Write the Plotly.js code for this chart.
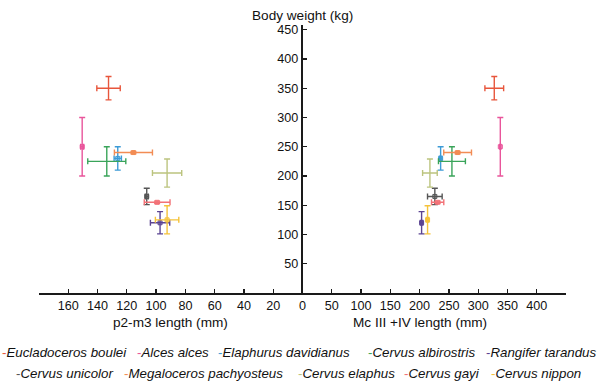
<!DOCTYPE html>
<html>
<head>
<meta charset="utf-8">
<script src="https://cdn.plot.ly/plotly-3.0.1.min.js"></script>
<style>html,body{margin:0;padding:0;background:#fff;}#chart{width:600px;height:383px;}</style>
</head>
<body>
<div id="chart"></div>
<script>
// ---- data ----
var species = ["Eucladoceros boulei","Alces alces","Elaphurus davidianus","Cervus albirostris","Rangifer tarandus",
               "Cervus unicolor","Megaloceros pachyosteus","Cervus elaphus","Cervus gayi","Cervus nippon"];
var bodyWeight    = [350, 250, 230, 225, 120, 165, 240, 205, 155, 125];
var bodyWeightErr = [20, 50, 20, 25, 19, 14, 2, 24, 2, 24];
var p2m3          = [132.5, 150.5, 126.2, 133.7, 97.3, 106.4, 115.5, 92.5, 99.3, 92.5];
var p2m3Err       = [8, 1, 2.5, 13, 6.6, 1, 13, 10, 8.8, 8];
var mc34          = [327.5, 337.8, 235.9, 255.2, 203.4, 226, 264.9, 217.6, 230.8, 213.6];
var mc34Err       = [16, 1, 2, 23, 2, 12.5, 23.7, 12.5, 10.5, 2];
var leftTicks  = [160, 140, 120, 100, 80, 60, 40, 20, 0];
var rightTicks = [50, 100, 150, 200, 250, 300, 350, 400];
var yTicks     = [50, 100, 150, 200, 250, 300, 350, 400, 450];

// ---- styles ----
var colors = ["#e8563c","#e9559b","#3d9bd6","#3aa45a","#5b4492","#555555","#f28c54","#bcc47f","#f27277","#f5c33b"];
var showMarker = [false, true, true, false, true, true, true, false, true, true];

var traces = [];
species.forEach(function(name, i){
  var common = {
    mode: 'markers', type: 'scatter', name: name, showlegend: false,
    marker: {symbol: 'square', size: showMarker[i] ? 4 : 0.1,
             color: colors[i] + '66', line: {color: colors[i], width: showMarker[i] ? 1 : 0}},
    error_y: {type: 'data', array: [bodyWeightErr[i]], color: colors[i], thickness: 1.4, width: 3}
  };
  traces.push(Object.assign({}, common, {
    x: [p2m3[i]], y: [bodyWeight[i]], xaxis: 'x', yaxis: 'y',
    error_x: {type: 'data', array: [p2m3Err[i]], color: colors[i], thickness: 1.4, width: 3}
  }));
  traces.push(Object.assign({}, common, {
    x: [mc34[i]], y: [bodyWeight[i]], xaxis: 'x2', yaxis: 'y',
    error_x: {type: 'data', array: [mc34Err[i]], color: colors[i], thickness: 1.4, width: 3}
  }));
});

var L = 39, R = 34, W = 600;
function px2paper(px){ return (px - L) / (W - L - R); }

var FAM = '"Liberation Sans", Arial, sans-serif';
var tickFont = {family: FAM, size: 12.6, color: '#111'};
var titleFont = {family: FAM, size: 13.6, color: '#111'};
var axisCommon = {
  showgrid: false, zeroline: false, showline: true, linecolor: '#1a1a1a', linewidth: 1.6,
  ticks: 'inside', ticklen: 4, tickwidth: 1.3, tickcolor: '#1a1a1a', tickfont: tickFont, fixedrange: true
};

var annotations = [
  {text: 'Body weight (kg)', xref: 'paper', yref: 'paper', x: 0.5, y: 1, yshift: 10,
   xanchor: 'center', yanchor: 'middle', showarrow: false, font: titleFont},
  {text: 'p2-m3 length (mm)', xref: 'paper', yref: 'paper', x: 0.25, y: 0, yshift: -29,
   xanchor: 'center', yanchor: 'middle', showarrow: false, font: titleFont},
  {text: 'Mc III +IV length (mm)', xref: 'x2', yref: 'paper', x: 200, y: 0, yshift: -29,
   xanchor: 'center', yanchor: 'middle', showarrow: false, font: titleFont}
];

// legend (two rows) built as text annotations
var legendX = [0, 135, 216, 366, 484, 14, 122, 296, 402, 489];
var legendRow = [0,0,0,0,0,1,1,1,1,1];
species.forEach(function(name, i){
  annotations.push({
    text: '<span style="color:' + colors[i] + '">-</span><i>' + name + '</i>',
    xref: 'paper', yref: 'paper', x: px2paper(legendX[i]), y: 0,
    yshift: legendRow[i] === 0 ? -59 : -80,
    xanchor: 'left', yanchor: 'middle', showarrow: false,
    font: {family: FAM, size: 13.3, color: '#111'}
  });
});

var layout = {
  width: 600, height: 383,
  margin: {l: L, r: R, t: 25, b: 90, pad: 0},
  paper_bgcolor: '#fff', plot_bgcolor: '#fff',
  showlegend: false,
  xaxis: Object.assign({}, axisCommon, {domain: [0, 0.5], range: [180, 0], tickvals: leftTicks,
          ticktext: leftTicks.map(String), anchor: 'y'}),
  xaxis2: Object.assign({}, axisCommon, {domain: [0.5, 1], range: [0, 450], tickvals: rightTicks,
          ticktext: rightTicks.map(String), anchor: 'y'}),
  yaxis: Object.assign({}, axisCommon, {range: [0, 458], tickvals: yTicks, ticktext: yTicks.map(String),
          anchor: 'x2', side: 'left'}),
  annotations: annotations
};

Plotly.newPlot('chart', traces, layout, {displayModeBar: false, staticPlot: true});
</script>
</body>
</html>
